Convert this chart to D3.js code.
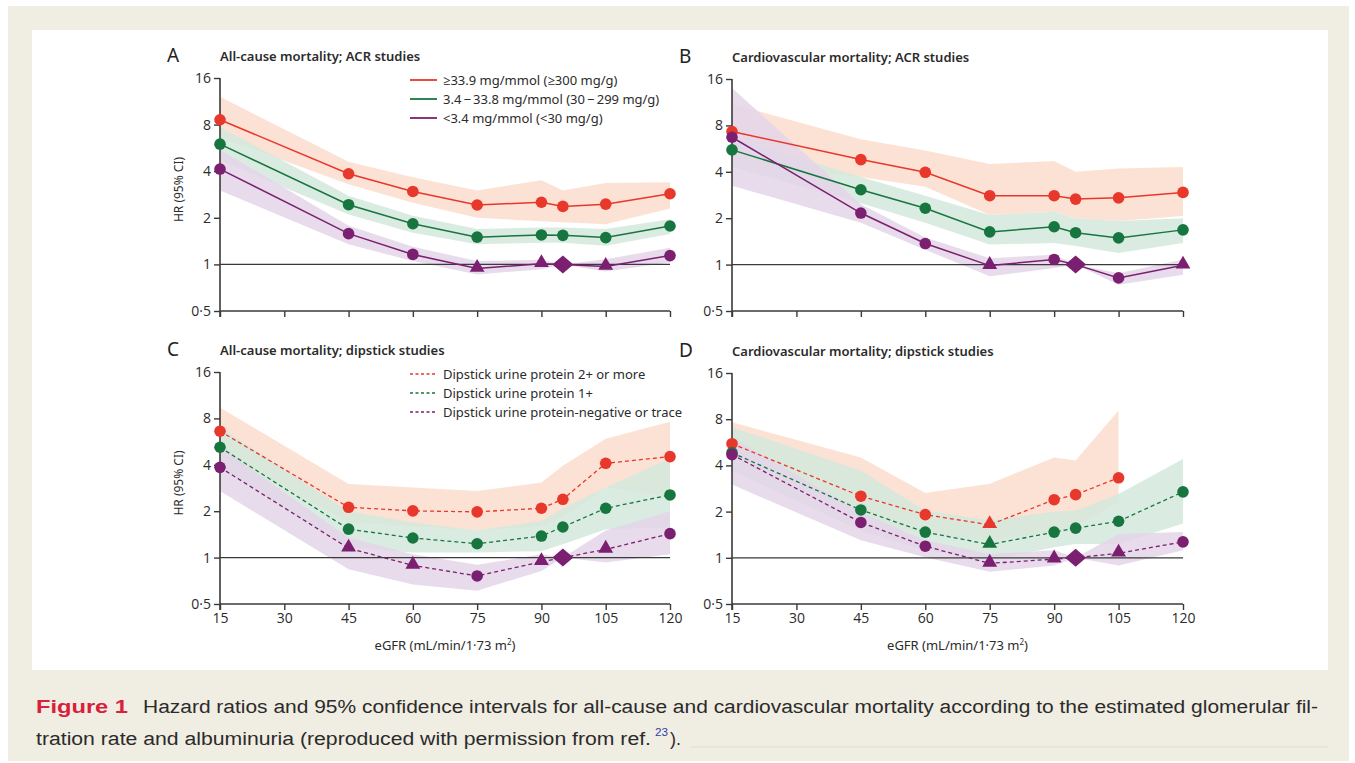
<!DOCTYPE html>
<html>
<head>
<meta charset="utf-8">
<script src="https://cdn.jsdelivr.net/npm/d3@7"></script>
<style>
    body { margin: 0; background: #ffffff; }
    svg { display: block; font-family: "Noto Sans", "Open Sans", sans-serif; }
</style>
</head>
<body>
<div id="figure"></div>
<script>
// eGFR values where the hazard ratios were estimated
const egfr = [15, 45, 60, 75, 90, 95, 105, 120]
const xTicks = [15, 30, 45, 60, 75, 90, 105, 120]
const yTicks = [0.5, 1, 2, 4, 8, 16]
const yTickLabels = ["0·5", "1", "2", "4", "8", "16"]

// A: all-cause mortality, ACR studies
const aHighHR = [8.6, 3.85, 2.96, 2.42, 2.52, 2.37, 2.45, 2.86]
const aHighLo = [6.6, 3.3, 2.5, 2.0, 1.9, 1.87, 1.82, 2.3]
const aHighUp = [12.1, 4.6, 3.65, 3.0, 3.5, 3.0, 3.35, 3.4]
const aMidHR = [5.98, 2.43, 1.83, 1.5, 1.55, 1.54, 1.49, 1.77]
const aMidLo = [4.7, 2.1, 1.6, 1.35, 1.38, 1.38, 1.32, 1.57]
const aMidUp = [7.7, 2.78, 2.06, 1.69, 1.73, 1.73, 1.69, 1.96]
const aLowHR = [4.13, 1.58, 1.16, 0.94, 1.01, 1, 0.97, 1.14]
const aLowLo = [3.0, 1.35, 1.05, 0.86, 0.93, 1, 0.9, 1.03]
const aLowUp = [5.5, 1.78, 1.3, 1.05, 1.07, 1, 1.08, 1.28]
const aLowMarks = ["c", "c", "c", "t", "t", "d", "t", "c"]

// B: cardiovascular mortality, ACR studies
const bHighHR = [7.3, 4.8, 3.97, 2.8, 2.8, 2.66, 2.71, 2.94]
const bHighLo = [4.5, 3.7, 3.2, 2.1, 2.2, 2.0, 1.92, 2.07]
const bHighUp = [11, 6.5, 5.5, 4.5, 4.7, 4.0, 4.2, 4.3]
const bMidHR = [5.55, 3.06, 2.32, 1.63, 1.76, 1.61, 1.49, 1.68]
const bMidLo = [4.3, 2.5, 1.87, 1.35, 1.38, 1.32, 1.19, 1.38]
const bMidUp = [6.7, 3.7, 2.8, 2.1, 2.2, 2.0, 1.92, 2.0]
const bLowHR = [6.7, 2.16, 1.37, 0.985, 1.08, 1, 0.82, 0.99]
const bLowLo = [3.25, 1.87, 1.25, 0.84, 0.95, 1, 0.74, 0.86]
const bLowUp = [14, 2.46, 1.5, 1.1, 1.16, 1, 0.88, 1.08]
const bLowMarks = ["c", "c", "c", "t", "c", "d", "c", "t"]

// C: all-cause mortality, dipstick studies
const cHighHR = [6.61, 2.12, 2.01, 1.98, 2.09, 2.39, 4.09, 4.52]
const cHighLo = [4.9, 1.69, 1.6, 1.5, 1.6, 1.82, 2.85, 2.5]
const cHighUp = [9.4, 3.0, 2.85, 2.7, 3.07, 3.95, 5.9, 7.6]
const cMidHR = [5.2, 1.53, 1.34, 1.23, 1.38, 1.58, 2.09, 2.55]
const cMidLo = [3.85, 1.16, 1.08, 1.08, 1.1, 1.22, 1.53, 1.57]
const cMidUp = [7.0, 2.0, 1.69, 1.5, 1.73, 2.1, 2.85, 4.4]
const cLowHR = [3.85, 1.15, 0.89, 0.76, 0.94, 1, 1.13, 1.43]
const cLowLo = [2.7, 0.84, 0.67, 0.61, 0.82, 1, 0.93, 1.05]
const cLowUp = [5.2, 1.35, 1.05, 0.9, 1.05, 1, 1.5, 2.0]
const cLowMarks = ["c", "t", "t", "c", "t", "d", "t", "c"]

// D: cardiovascular mortality, dipstick studies
const dHighHR = [5.54, 2.52, 1.91, 1.64, 2.39, 2.58, 3.32, null]
const dHighLo = [4.2, 1.8, 1.4, 1.3, 1.45, 1.6, 2.3, null]
const dHighUp = [7.65, 4.5, 2.64, 3.04, 4.5, 4.3, 9.1, null]
const dHighMarks = ["c", "c", "c", "t", "c", "c", "c", "c"]
const dMidHR = [4.84, 2.05, 1.47, 1.22, 1.47, 1.56, 1.73, 2.69]
const dMidLo = [3.7, 1.5, 1.12, 0.96, 1.17, 1.23, 1.23, 1.67]
const dMidUp = [7.1, 3.7, 2.03, 1.75, 2.0, 2.03, 2.6, 4.4]
const dMidMarks = ["c", "c", "c", "t", "c", "c", "c", "c"]
const dLowHR = [4.7, 1.7, 1.19, 0.92, 0.98, 1, 1.07, 1.27]
const dLowLo = [3.0, 1.3, 1.01, 0.81, 0.89, 1, 0.89, 1.12]
const dLowUp = [6.1, 1.98, 1.3, 1.06, 1.12, 1, 1.43, 1.47]
const dLowMarks = ["c", "c", "c", "t", "t", "d", "t", "c"]

const acrLegend = ["≥33.9 mg/mmol (≥300 mg/g)", "3.4\u2009\u2212\u200933.8 mg/mmol (30\u2009\u2212\u2009299 mg/g)", "<3.4 mg/mmol (<30 mg/g)"]
const dipLegend = ["Dipstick urine protein 2+ or more", "Dipstick urine protein 1+", "Dipstick urine protein-negative or trace"]

const colors = ["#e8372b", "#17763f", "#7b1f70"]
const bandColors = ["#fcdfcf", "#d3e9dc", "#e4d5e9"]
const bandOpacity = [0.9, 0.85, 0.85]

const W = 1355, H = 763
const svg = d3.select("#figure").append("svg").attr("width", W).attr("height", H)

// page frame
svg.append("rect").attr("x", 8).attr("y", 6).attr("width", W - 14).attr("height", H - 8).attr("fill", "#f0ede2")
svg.append("rect").attr("x", 32).attr("y", 30).attr("width", 1296).attr("height", 640).attr("fill", "#ffffff")

/**
 * Draws one panel of the figure.
 * @param {*} p Panel description (position, title, series).
 */
function drawPanel(p) {
    const x = d3.scaleLinear().domain([15, 120]).range([p.left, p.right])
    const y = d3.scaleLog().base(2).domain([0.5, 16]).range([p.bottom, p.top])
    const g = svg.append("g")

    // confidence bands first, so the lines sit on top
    p.series.forEach((s, i) => {
        const pts = egfr.map((e, j) => ({e: e, lo: s.lo[j], up: s.up[j]}))
        const area = d3.area()
            .defined(d => d.lo != null)
            .x(d => x(d.e))
            .y0(d => y(d.lo))
            .y1(d => y(d.up))
        g.append("path").datum(pts).attr("d", area)
            .attr("fill", bandColors[i]).attr("fill-opacity", bandOpacity[i])
    })

    // reference line at HR = 1
    g.append("line").attr("x1", p.left).attr("x2", p.right)
        .attr("y1", y(1)).attr("y2", y(1))
        .attr("stroke", "#3a3a3a").attr("stroke-width", 1.3)

    // axes
    const yAxis = d3.axisLeft(y).tickValues(yTicks).tickSize(6).tickFormat((d, i) => yTickLabels[i])
    const ya = g.append("g").attr("transform", `translate(${p.left},0)`).call(yAxis)
    const xAxis = d3.axisBottom(x).tickValues(xTicks).tickSize(6).tickFormat(p.xLabels ? d3.format("d") : "")
    const xa = g.append("g").attr("transform", `translate(0,${p.bottom})`).call(xAxis)
    ;[ya, xa].forEach(a => {
        a.select(".domain").attr("stroke", "#3a3a3a").attr("stroke-width", 1.6)
        a.selectAll(".tick line").attr("stroke", "#3a3a3a").attr("stroke-width", 1.4)
        a.selectAll(".tick text").attr("fill", "#2b2b2b").style("font-size", "14px")
            .style("font-family", "'Open Sans', 'Noto Sans', sans-serif")
    })
    ya.select(".domain").attr("d", `M0,${p.top}V${p.bottom + 6}`)
    xa.select(".domain").attr("d", `M${p.left},0H${p.right}`)
    ya.selectAll(".tick text").attr("x", -9)
    xa.selectAll(".tick text").attr("y", 9)

    // lines and markers
    p.series.forEach((s, i) => {
        const pts = egfr.map((e, j) => ({e: e, v: s.hr[j], m: s.marks ? s.marks[j] : "c"}))
        const line = d3.line().defined(d => d.v != null).x(d => x(d.e)).y(d => y(d.v))
        g.append("path").datum(pts).attr("d", line)
            .attr("fill", "none").attr("stroke", colors[i])
            .attr("stroke-width", p.dashed ? 1.3 : 1.5)
            .attr("stroke-dasharray", p.dashed ? "4,3" : null)
        const valid = pts.filter(d => d.v != null)
        g.selectAll(null).data(valid.filter(d => d.m === "c")).join("circle")
            .attr("cx", d => x(d.e)).attr("cy", d => y(d.v)).attr("r", 5.8)
            .attr("fill", colors[i])
        g.selectAll(null).data(valid.filter(d => d.m === "t")).join("path")
            .attr("d", d3.symbol(d3.symbolTriangle, 95))
            .attr("transform", d => `translate(${x(d.e)},${y(d.v) - 1})`)
            .attr("fill", colors[i])
        g.selectAll(null).data(valid.filter(d => d.m === "d")).join("path")
            .attr("d", "M0,-9L10.5,0L0,9L-10.5,0Z")
            .attr("transform", d => `translate(${x(d.e)},${y(d.v)})`)
            .attr("fill", colors[i])
    })

    // panel letter and title
    g.append("text").attr("x", p.left - 53).attr("y", p.top - 16).text(p.letter)
        .style("font-size", "19px").attr("fill", "#222")
    g.append("text").attr("x", p.left).attr("y", p.top - 17).text(p.title)
        .style("font-size", "13px").style("font-weight", "600").attr("fill", "#2b2b2b")

    // y axis title
    if(p.yTitle)
        g.append("text").attr("transform", `translate(${p.left - 37},${(p.top + p.bottom) / 2 - 5}) rotate(-90)`)
            .attr("text-anchor", "middle").text("HR (95% CI)")
            .style("font-size", "12px").attr("fill", "#2b2b2b")

    // x axis title
    if(p.xLabels) {
        const t = g.append("text").attr("x", (p.left + p.right) / 2).attr("y", p.bottom + 46)
            .attr("text-anchor", "middle").style("font-size", "13px").attr("fill", "#2b2b2b")
        t.append("tspan").text("eGFR (mL/min/1·73 m")
        t.append("tspan").text("2").attr("dy", -5).style("font-size", "8px")
        t.append("tspan").text(")").attr("dy", 5)
    }

    // legend
    if(p.legend) {
        p.legend.forEach((l, i) => {
            const ly = p.top + 2 + i * 19
            g.append("line").attr("x1", 410).attr("x2", 437).attr("y1", ly).attr("y2", ly)
                .attr("stroke", colors[i]).attr("stroke-width", p.dashed ? 1.3 : 1.8)
                .attr("stroke-dasharray", p.dashed ? "3,2.5" : null)
            g.append("text").attr("x", 443).attr("y", ly + 4.5).text(l)
                .style("font-size", "13px").attr("fill", "#2b2b2b")
        })
    }
}

drawPanel({letter: "A", title: "All-cause mortality; ACR studies", left: 220, right: 670, top: 78, bottom: 311,
    yTitle: true, xLabels: false, dashed: false, legend: acrLegend,
    series: [{hr: aHighHR, lo: aHighLo, up: aHighUp}, {hr: aMidHR, lo: aMidLo, up: aMidUp},
        {hr: aLowHR, lo: aLowLo, up: aLowUp, marks: aLowMarks}]})
drawPanel({letter: "B", title: "Cardiovascular mortality; ACR studies", left: 732, right: 1183, top: 79, bottom: 311,
    yTitle: false, xLabels: false, dashed: false,
    series: [{hr: bHighHR, lo: bHighLo, up: bHighUp}, {hr: bMidHR, lo: bMidLo, up: bMidUp},
        {hr: bLowHR, lo: bLowLo, up: bLowUp, marks: bLowMarks}]})
drawPanel({letter: "C", title: "All-cause mortality; dipstick studies", left: 220, right: 670, top: 372, bottom: 604,
    yTitle: true, xLabels: true, dashed: true, legend: dipLegend,
    series: [{hr: cHighHR, lo: cHighLo, up: cHighUp}, {hr: cMidHR, lo: cMidLo, up: cMidUp},
        {hr: cLowHR, lo: cLowLo, up: cLowUp, marks: cLowMarks}]})
drawPanel({letter: "D", title: "Cardiovascular mortality; dipstick studies", left: 732, right: 1183, top: 373, bottom: 604,
    yTitle: false, xLabels: true, dashed: true,
    series: [{hr: dHighHR, lo: dHighLo, up: dHighUp, marks: dHighMarks}, {hr: dMidHR, lo: dMidLo, up: dMidUp, marks: dMidMarks},
        {hr: dLowHR, lo: dLowLo, up: dLowUp, marks: dLowMarks}]})

// caption
const cap = svg.append("g").style("font-family", "'Liberation Sans', 'DejaVu Sans', sans-serif")
cap.append("text").attr("x", 36).attr("y", 713).text("Figure 1")
    .style("font-size", "19px").style("font-weight", "bold").attr("fill", "#d8203c")
    .attr("textLength", 92).attr("lengthAdjust", "spacingAndGlyphs")
cap.append("text").attr("x", 143).attr("y", 713)
    .text("Hazard ratios and 95% confidence intervals for all-cause and cardiovascular mortality according to the estimated glomerular fil-")
    .style("font-size", "18px").attr("fill", "#2b2b2b")
    .attr("textLength", 1175).attr("lengthAdjust", "spacingAndGlyphs")
cap.append("text").attr("x", 36).attr("y", 745)
    .text("tration rate and albuminuria (reproduced with permission from ref.")
    .style("font-size", "18px").attr("fill", "#2b2b2b")
    .attr("textLength", 615).attr("lengthAdjust", "spacingAndGlyphs")
cap.append("text").attr("x", 655).attr("y", 736).text("23")
    .style("font-size", "11px").attr("fill", "#2d3fa8")
    .attr("textLength", 13).attr("lengthAdjust", "spacingAndGlyphs")
cap.append("text").attr("x", 670).attr("y", 745).text(").")
    .style("font-size", "18px").attr("fill", "#2b2b2b")
svg.append("line").attr("x1", 690).attr("x2", 1328).attr("y1", 747).attr("y2", 747)
    .attr("stroke", "#e2ded2").attr("stroke-width", 1)
</script>
</body>
</html>
